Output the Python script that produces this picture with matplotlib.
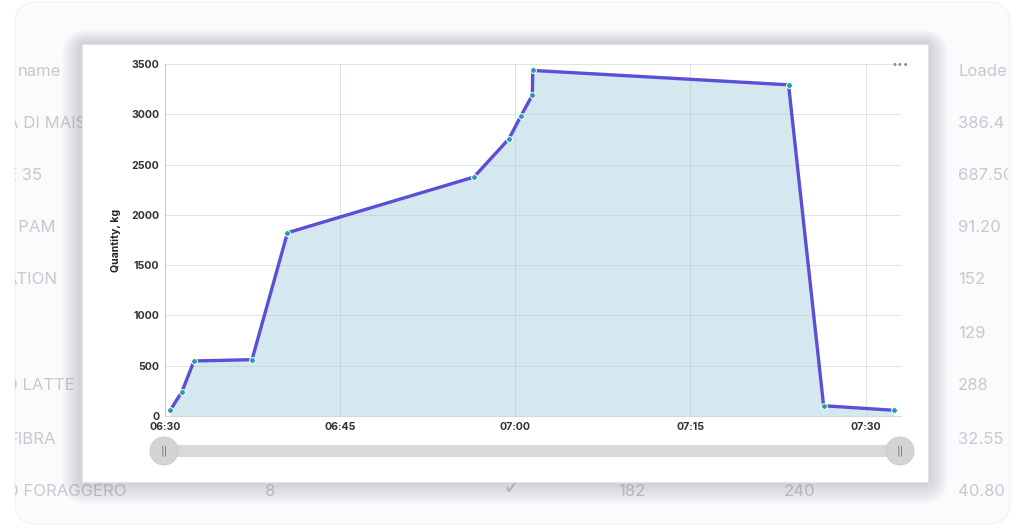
import matplotlib
matplotlib.use('Agg')
import matplotlib.pyplot as plt
import matplotlib.dates as mdates
from matplotlib.patches import FancyBboxPatch, Rectangle, Circle
import pandas as pd

# данные графика: время загрузки и накопленное количество, кг
times = ['06:30:28', '06:31:28', '06:32:30', '06:37:28', '06:40:30', '06:56:28', '06:59:28',
         '07:00:28', '07:01:28', '07:01:30', '07:23:24', '07:26:24', '07:32:24']
quantity = [57, 242, 547, 560, 1822, 2376, 2757, 2979, 3191, 3436, 3293, 102, 57]
y_ticks = [0, 500, 1000, 1500, 2000, 2500, 3000, 3500]
x_ticks = ['06:30', '06:45', '07:00', '07:15', '07:30']

# таблица на фоне (за модальным окном)
left_col = ['name', 'A DI MAIS', 'E 35', 'I PAM', 'ATION', '', 'O LATTE', 'FIBRA', 'O FORAGGERO']
left_x = [18, 7, 7, 9, 6, 6, 5, 8, 6]
right_col = ['Loade', '386.4', '687.50', '91.20', '152', '129', '288', '32.55', '40.80']
row_y = [71, 123, 175, 228, 280, 333, 386, 439, 491]
bottom_row = [('8', 270), ('182', 632), ('240', 800)]

day = '2024-01-01 '
t = pd.to_datetime([day + s for s in times])

fig = plt.figure(figsize=(10.24, 5.28), dpi=100)
fig.patch.set_facecolor('white')

bg = fig.add_axes([0, 0, 1, 1])
bg.set_xlim(0, 1024)
bg.set_ylim(528, 0)
bg.axis('off')

panel = FancyBboxPatch((15, 2), 995, 522, boxstyle='round,pad=0,rounding_size=22',
                       facecolor='#fbfbfd', edgecolor='#f1f1f4', lw=0.8, zorder=1)
bg.add_patch(panel)

# отдельные оси под таблицу, чтобы текст обрезался по краям панели
tab = fig.add_axes([15 / 1024, 0, 993 / 1024, 1])
tab.set_xlim(15, 1008)
tab.set_ylim(528, 0)
tab.axis('off')
tab.patch.set_alpha(0)

grey = '#c8c8cd'
for txt, x, y in zip(left_col, left_x, row_y):
    tab.text(x, y, txt, fontsize=12, color=grey, family='Inter', va='center', ha='left', clip_on=True)
for txt, y in zip(right_col, row_y):
    tab.text(958, y, txt, fontsize=12, color=grey, family='Inter', va='center', ha='left', clip_on=True)
for txt, x in bottom_row:
    tab.text(x, 491, txt, fontsize=12, color=grey, family='Inter', va='center', ha='center')
tab.text(512, 487, '\u2713', fontsize=17, color='#b5d6c9', family='DejaVu Sans', va='center', ha='center')

# модальное окно поверх таблицы
card = fig.add_axes([0, 0, 1, 1])
card.set_xlim(0, 1024)
card.set_ylim(528, 0)
card.axis('off')
card.patch.set_alpha(0)

for i in range(18):
    pad = 20 - i
    card.add_patch(FancyBboxPatch((82 - pad, 44 - pad * 0.7), 846 + 2 * pad, 438 + 1.8 * pad,
                                  boxstyle='round,pad=0,rounding_size=%d' % (pad + 6),
                                  facecolor='#8a8a95', edgecolor='none', alpha=0.019, zorder=3))
card.add_patch(Rectangle((82, 44), 846, 438, facecolor='white', edgecolor='#e2e2e2', lw=0.6, zorder=4))

# ползунок
card.add_patch(FancyBboxPatch((164, 445), 736, 12, boxstyle='round,pad=0,rounding_size=3',
                              facecolor='#d9d9d9', edgecolor='none', zorder=5))
for hx in (164, 900):
    card.add_patch(Circle((hx, 451), 14, facecolor='#d4d4d4', edgecolor='#c8c8c8', lw=0.6, zorder=6))
    card.text(hx, 451, '||', fontsize=8, color='#777777', ha='center', va='center', zorder=7)

card.text(900, 65, '\u2022\u2022\u2022', fontsize=7, color='#808080', ha='center', va='center', zorder=7)

ax = fig.add_axes([164.8 / 1024, 1 - 416 / 528, 735.9 / 1024, 352 / 528])
ax.patch.set_alpha(0)

ax.fill_between(t, quantity, 0, color='#d5e8ef', zorder=1, lw=0)
ax.plot(t, quantity, color='#5b4fd8', lw=2.4, zorder=3, solid_joinstyle='round')
ax.plot(t, quantity, 'o', ms=4.2, mfc='#21a0a8', mec='white', mew=0.7, zorder=4)

ax.set_ylim(0, 3500)
ax.set_yticks(y_ticks)
ax.set_xlim(pd.Timestamp(day + '06:30'), pd.Timestamp(day + '07:33'))
ax.set_xticks(pd.to_datetime([day + s for s in x_ticks]))
ax.xaxis.set_major_formatter(mdates.DateFormatter('%H:%M'))

ax.grid(True, color='#b8c4c8', lw=0.7, alpha=0.45, zorder=2)
ax.set_axisbelow(False)
for s in ['top', 'right']:
    ax.spines[s].set_visible(False)
for s in ['left', 'bottom']:
    ax.spines[s].set_color('#d8d8d8')
    ax.spines[s].set_linewidth(0.8)
ax.tick_params(length=0, pad=4, labelsize=7.6, labelcolor='#333333')
for lab in ax.get_xticklabels() + ax.get_yticklabels():
    lab.set_fontweight('bold')
    lab.set_family('Inter')

ax.set_ylabel('Quantity, kg', fontsize=7.6, fontweight='bold', family='Inter', color='#222222', labelpad=7)

fig.savefig('out.png', dpi=100)
